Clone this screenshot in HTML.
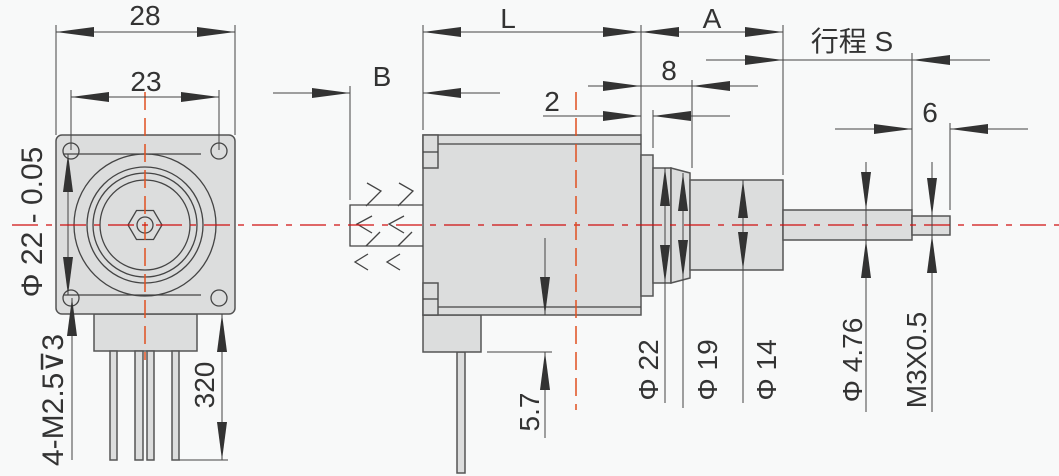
<!DOCTYPE html>
<html><head><meta charset="utf-8"><style>
html,body{margin:0;padding:0;background:#f8f9f9;}
svg{display:block;}
text{font-family:"Liberation Sans","Noto Sans CJK SC",sans-serif;fill:#333;font-size:28px;}
.o{stroke:#555;stroke-width:1.5;fill:#dcdddd;}
.l{stroke:#444;stroke-width:1.3;fill:none;}
.d{stroke:#444;stroke-width:1;fill:none;}
.r{stroke:#d01010;stroke-width:1.3;fill:none;stroke-dasharray:26,8,6,8;}
.ro{stroke:#e05020;stroke-width:1.5;fill:none;stroke-dasharray:18,8;}
.a{fill:#333;stroke:none;}
</style></head><body>
<svg width="1059" height="476" viewBox="0 0 1059 476" xmlns="http://www.w3.org/2000/svg">
<defs>
<marker id="ae" markerWidth="38" markerHeight="10" refX="38" refY="5" orient="auto" markerUnits="userSpaceOnUse"><path d="M0,0 L38,5 L0,10 Z" fill="#333"/></marker>
<marker id="as" markerWidth="38" markerHeight="10" refX="0" refY="5" orient="auto" markerUnits="userSpaceOnUse"><path d="M38,0 L0,5 L38,10 Z" fill="#333"/></marker>
</defs>

<!-- LEFT VIEW -->
<rect x="94" y="314" width="103" height="37" class="o"/>
<rect x="110" y="351" width="7" height="109" class="o"/>
<rect x="135" y="351" width="8" height="109" class="o"/>
<rect x="147" y="351" width="7" height="109" class="o"/>
<rect x="172" y="351" width="7" height="109" class="o"/>
<rect x="56" y="135" width="179" height="179" rx="6" class="o"/>
<circle cx="71" cy="151" r="8" class="l"/><circle cx="219" cy="151" r="8" class="l"/>
<circle cx="71" cy="298" r="8" class="l"/><circle cx="219" cy="298" r="8" class="l"/>
<line x1="64" y1="154" x2="201" y2="154" class="l"/><line x1="64" y1="295" x2="201" y2="295" class="l"/>
<circle cx="145" cy="225" r="71" class="l"/>
<circle cx="145" cy="225" r="58" class="l"/>
<circle cx="145" cy="225" r="52" class="l"/>
<circle cx="145" cy="225" r="45" class="l"/>
<polygon points="128,225 136.5,210.5 153.5,210.5 162,225 153.5,239.5 136.5,239.5" class="l"/>
<circle cx="145" cy="225" r="8" class="l"/>
<line x1="145" y1="92" x2="145" y2="360" class="ro"/>

<!-- dims left -->
<line x1="56" y1="25" x2="56" y2="135" class="d"/><line x1="235" y1="25" x2="235" y2="135" class="d"/>
<line x1="56" y1="32" x2="235" y2="32" class="d" marker-start="url(#as)" marker-end="url(#ae)"/>
<text x="145" y="25" text-anchor="middle">28</text>
<line x1="71" y1="90" x2="71" y2="150" class="d"/><line x1="219" y1="90" x2="219" y2="150" class="d"/>
<line x1="71" y1="97" x2="219" y2="97" class="d" marker-start="url(#as)" marker-end="url(#ae)"/>
<text x="146" y="91" text-anchor="middle">23</text>
<line x1="68" y1="154" x2="68" y2="295" class="d" marker-start="url(#as)" marker-end="url(#ae)"/>
<text transform="translate(42,222) rotate(-90)" text-anchor="middle" style="font-size:30px">Φ 22 - 0.05</text>
<line x1="72" y1="298" x2="72" y2="460" class="d" marker-start="url(#as)"/>
<text transform="translate(63,400) rotate(-90)" text-anchor="middle" style="font-size:30px">4-M2.5⊽3</text>
<line x1="179" y1="460" x2="228" y2="460" class="d"/>
<line x1="222" y1="314" x2="222" y2="460" class="d" marker-start="url(#as)" marker-end="url(#ae)"/>
<text transform="translate(214,385) rotate(-90)" text-anchor="middle">320</text>

<!-- RIGHT VIEW -->
<rect x="457" y="352" width="8" height="121" class="o"/>
<rect x="423" y="315" width="58" height="37" class="o"/>
<rect x="423" y="135" width="218" height="180" class="o"/>
<line x1="438" y1="144" x2="641" y2="144" class="l"/><line x1="438" y1="307" x2="641" y2="307" class="l"/>
<rect x="423" y="135" width="15" height="33" class="o"/><line x1="423" y1="152" x2="438" y2="152" class="l"/>
<rect x="423" y="283" width="15" height="32" class="o"/><line x1="423" y1="299" x2="438" y2="299" class="l"/>
<polyline points="423,205 350,205 350,246 423,246" class="l"/>
<g class="l" stroke-width="1.5">
<polyline points="367,183 381,191 366,206"/><polyline points="399,183 413,191 398,206"/>
<polyline points="372,216 357,224 372,233"/><polyline points="404,216 389,224 404,233"/>
<polyline points="380,232 366,246"/><polyline points="412,232 398,246"/>
<polyline points="368,254 355,262 368,270"/><polyline points="400,254 387,262 400,270"/>
</g>
<rect x="641" y="155" width="12" height="141" class="o"/>
<rect x="653" y="168" width="18" height="115" class="o"/>
<polygon points="671,168 690,173 690,278 671,283" class="o"/>
<rect x="690" y="180" width="93" height="90" class="o"/>
<rect x="783" y="210" width="129" height="30" class="o"/>
<rect x="912" y="216" width="38" height="19" class="o"/>
<line x1="12" y1="225" x2="1059" y2="225" class="r"/>
<line x1="576" y1="92" x2="576" y2="410" class="ro"/>

<!-- top dims -->
<line x1="423" y1="25" x2="423" y2="130" class="d"/>
<line x1="641" y1="25" x2="641" y2="135" class="d"/>
<line x1="783" y1="25" x2="783" y2="175" class="d"/>
<line x1="423" y1="32" x2="641" y2="32" class="d" marker-start="url(#as)" marker-end="url(#ae)"/>
<text x="508" y="28" text-anchor="middle">L</text>
<line x1="641" y1="32" x2="783" y2="32" class="d" marker-start="url(#as)" marker-end="url(#ae)"/>
<text x="712" y="28" text-anchor="middle">A</text>
<line x1="706" y1="60" x2="783" y2="60" class="d" marker-end="url(#ae)"/>
<line x1="783" y1="60" x2="990" y2="60" class="d"/>
<line x1="990" y1="60" x2="912" y2="60" class="d" marker-end="url(#ae)"/>
<line x1="912" y1="53" x2="912" y2="210" class="d"/>
<text x="852" y="51" text-anchor="middle">行程 S</text>
<line x1="588" y1="86" x2="641" y2="86" class="d" marker-end="url(#ae)"/>
<line x1="641" y1="86" x2="758" y2="86" class="d"/>
<line x1="758" y1="86" x2="692" y2="86" class="d" marker-end="url(#ae)"/>
<line x1="692" y1="80" x2="692" y2="168" class="d"/>
<text x="669" y="80" text-anchor="middle">8</text>
<line x1="543" y1="116" x2="641" y2="116" class="d" marker-end="url(#ae)"/>
<line x1="730" y1="116" x2="653" y2="116" class="d" marker-end="url(#ae)"/>
<line x1="653" y1="110" x2="653" y2="148" class="d"/>
<text x="552" y="111" text-anchor="middle">2</text>
<line x1="273" y1="93" x2="350" y2="93" class="d" marker-end="url(#ae)"/>
<line x1="500" y1="93" x2="423" y2="93" class="d" marker-end="url(#ae)"/>
<line x1="350" y1="86" x2="350" y2="200" class="d"/>
<text x="382" y="86" text-anchor="middle">B</text>
<line x1="835" y1="129" x2="912" y2="129" class="d" marker-end="url(#ae)"/>
<line x1="1028" y1="129" x2="950" y2="129" class="d" marker-end="url(#ae)"/>
<line x1="950" y1="123" x2="950" y2="210" class="d"/>
<text x="930" y="122" text-anchor="middle">6</text>

<!-- vertical dims -->
<line x1="665" y1="168" x2="665" y2="283" class="d" marker-start="url(#as)" marker-end="url(#ae)"/>
<line x1="665" y1="283" x2="665" y2="403" class="d"/>
<line x1="683" y1="173" x2="683" y2="278" class="d" marker-start="url(#as)" marker-end="url(#ae)"/>
<line x1="683" y1="278" x2="683" y2="408" class="d"/>
<line x1="743" y1="180" x2="743" y2="270" class="d" marker-start="url(#as)" marker-end="url(#ae)"/>
<line x1="743" y1="270" x2="743" y2="403" class="d"/>
<line x1="866" y1="162" x2="866" y2="210" class="d" marker-end="url(#ae)"/>
<line x1="866" y1="412" x2="866" y2="240" class="d" marker-end="url(#ae)"/>
<line x1="866" y1="210" x2="866" y2="240" class="d"/>
<line x1="932" y1="162" x2="932" y2="216" class="d" marker-end="url(#ae)"/>
<line x1="932" y1="412" x2="932" y2="235" class="d" marker-end="url(#ae)"/>
<line x1="932" y1="216" x2="932" y2="235" class="d"/>
<text transform="translate(658,370) rotate(-90)" text-anchor="middle">Φ 22</text>
<text transform="translate(717,370) rotate(-90)" text-anchor="middle">Φ 19</text>
<text transform="translate(776,370) rotate(-90)" text-anchor="middle">Φ 14</text>
<text transform="translate(862,360) rotate(-90)" text-anchor="middle">Φ 4.76</text>
<text transform="translate(926,360) rotate(-90)" text-anchor="middle">M3X0.5</text>
<line x1="545" y1="238" x2="545" y2="315" class="d" marker-end="url(#ae)"/>
<line x1="487" y1="352" x2="552" y2="352" class="d"/>
<line x1="545" y1="438" x2="545" y2="352" class="d" marker-end="url(#ae)"/>
<text transform="translate(539,412) rotate(-90)" text-anchor="middle">5.7</text>
</svg>
</body></html>
